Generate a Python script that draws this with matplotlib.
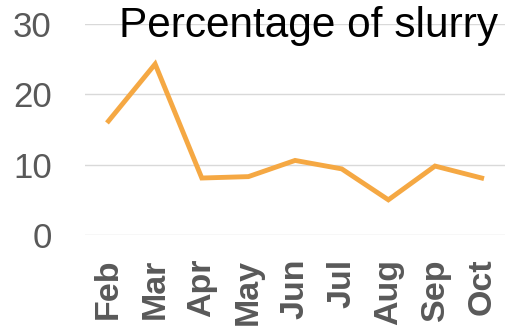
import matplotlib.pyplot as plt

months = ['Feb', 'Mar', 'Apr', 'May', 'Jun', 'Jul', 'Aug', 'Sep', 'Oct']
slurry = [16.2, 24.3, 8.1, 8.3, 10.6, 9.4, 5.0, 9.8, 8.1]
yticks = [0, 10, 20, 30]

plt.rcParams['font.family'] = ['Liberation Sans', 'DejaVu Sans']

fig = plt.figure(figsize=(5.07, 3.28), dpi=100)
ax = fig.add_axes([0.168, 0.2835, 0.828, 0.6435])

x = list(range(len(months)))
ax.plot(x, slurry, color='#F5A843', linewidth=3.5, solid_joinstyle='miter', zorder=3)

ax.set_xlim(-0.5, len(months) - 0.5)
ax.set_ylim(0, 30)
ax.set_yticks(yticks)
ax.set_yticklabels([str(v) for v in yticks], fontsize=25, color='#595959')
ax.set_xticks(x)
ax.set_xticklabels(months, rotation=90, fontsize=24.5, fontweight='bold', color='#595959')
ax.tick_params(axis='y', length=0, pad=24)
ax.tick_params(axis='x', length=0, pad=17)

ax.grid(axis='y', color='#D9D9D9', linewidth=1)
ax.set_axisbelow(True)
for s in ax.spines.values():
    s.set_visible(False)

fig.text(0.609, 0.887, 'Percentage of slurry', fontsize=30.5, color='black', ha='center', va='baseline')

fig.savefig('out.png', dpi=100)
